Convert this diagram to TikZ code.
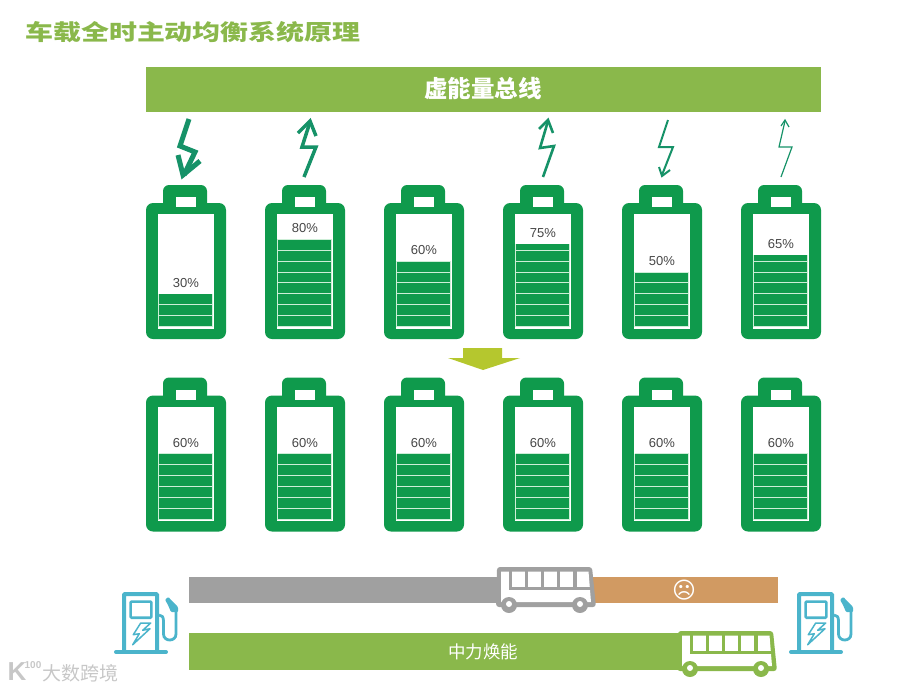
\documentclass[tikz,border=0pt]{standalone}
\usepackage{fontspec}
\setmainfont{Liberation Sans}
\newfontfamily\cjk{Noto Sans CJK SC}
\newfontfamily\symb{DejaVu Sans}
\usepackage{xcolor}
\definecolor{barGreen}{RGB}{138,184,75}
\definecolor{batGreen}{RGB}{15,154,76}
\definecolor{cellLine}{RGB}{205,238,215}
\definecolor{boltGreen}{RGB}{22,146,104}
\definecolor{pumpBlue}{RGB}{75,180,203}
\definecolor{busGray}{RGB}{160,160,160}
\definecolor{warmOrange}{RGB}{209,154,98}
\definecolor{arrowLime}{RGB}{181,199,46}
\newcommand{\battery}[5]{
  \begin{scope}[shift={(#1,#2)}]
    \fill[batGreen, rounded corners=6pt] (17,0) rectangle (61,30);
    \fill[batGreen, rounded corners=7pt] (0,18) rectangle (80,154);
    \fill[white] (30,12) rectangle (50,22);
    \fill[white] (12,29) rectangle (68,143.5);
    \fill[batGreen] (12.7,#3) rectangle (66.5,141.5);
    \begin{scope}
      \clip (12,#3) rectangle (68,143);
      \foreach \k in {0,...,8} {
        \draw[cellLine, line width=0.9pt] (12.7,141.5-\k*10.9) -- (66.5,141.5-\k*10.9);
      }
    \end{scope}
    \draw[cellLine, line width=0.9pt] (12.7,#3) -- (12.7,141.5) -- (66.5,141.5) -- (66.5,#3);
    \node[pct] (#5) at (40,#3-10.5) {#4};
  \end{scope}
}
\newcommand{\bus}[3]{
  \begin{scope}[shift={(#1,#2)}]
    \fill[#3, rounded corners=3pt] (1,0) -- (96,0) -- (100,40) -- (0,40) -- cycle;
    \fill[white] (5,4.5) -- (92.5,4.5) -- (95,35) -- (5,35) -- cycle;
    \fill[#3] (12.5,19.5) rectangle (94.5,23);
    \foreach \xa/\xb in {12.5/16, 28.5/32, 44.5/48, 60.5/64, 76.5/80.5} {
      \fill[#3] (\xa,4) rectangle (\xb,21);
    }
    \foreach \xa in {13,84} {
      \fill[#3] (\xa,38) circle (8);
      \fill[white] (\xa,37) circle (3);
    }
  \end{scope}
}
\newcommand{\pump}[2]{
  \begin{scope}[shift={(#1,#2)}, pumpBlue]
    \draw[line width=4pt, rounded corners=1pt] (10,60) -- (10,2) -- (43,2) -- (43,60);
    \draw[line width=4pt, line cap=round] (2,60) -- (52,60);
    \draw[line width=2.6pt, rounded corners=1pt] (16.6,9.6) rectangle (37.4,25.7);
    \draw[line width=1.5pt, line join=round] (36.7,31) -- (26.7,31) -- (19.3,42.7) -- (25.3,41.7) -- (18.7,52.7) -- (36,36.7) -- (28.7,38.3) -- cycle;
    \draw[line width=2.8pt] (45,23) .. controls (48,23) and (49.5,25) .. (49.5,29) -- (49.5,42) .. controls (49.5,50) and (62,50) .. (62,42) -- (62,18);
    \fill[rounded corners=1pt] (51,7.7) -- (54.3,5) -- (64,15) -- (64,20) -- (57,20) -- (54,13) -- cycle;
  \end{scope}
}
\begin{document}
\begin{tikzpicture}[
    x=1pt, y=-1pt,
    pct/.style={font=\fontsize{13}{13}\selectfont, text=black!72, inner sep=0pt},
    bolt/.style={boltGreen, line join=miter},
    title/.style={font=\cjk\fontsize{22}{22}\selectfont\bfseries, text=barGreen, xscale=1.27, transform shape, anchor=west, inner sep=0pt},
    barlabel/.style={font=\cjk\fontsize{#1}{#1}\selectfont\bfseries, text=white, inner sep=0pt},
    brandmark/.style={font=\cjk\fontsize{19}{19}\selectfont, text=black!22, inner sep=0pt}
]
\useasboundingbox (0,0) rectangle (900,689);

\node[title] (heading) at (25,32) {车载全时主动均衡系统原理};

\fill[barGreen] (146,67) rectangle (821,112);
\node[barlabel=23.5] (busbar) at (483,89) {虚能量总线};

\draw[bolt, line width=5pt] (189,119) -- (180,146) -- (195,152) -- (184,175);
\draw[bolt, line width=5pt] (178,155) -- (183,175) -- (200,161);
\draw[bolt, line width=3.5pt] (304,177) -- (316,147) -- (302,147) -- (310,122);
\draw[bolt, line width=3.5pt] (298,133) -- (310,121) -- (316,136);
\draw[bolt, line width=2.6pt] (543,177) -- (554,146) -- (540,148) -- (548,121);
\draw[bolt, line width=2.6pt] (539,129) -- (548,120) -- (553,133);
\draw[bolt, line width=2pt] (668,120) -- (659,147) -- (673,147) -- (662,175);
\draw[bolt, line width=2pt] (659,167) -- (662,176) -- (670,170);
\draw[bolt, line width=1.2pt] (781,177) -- (792,147) -- (779,147) -- (785,121);
\draw[bolt, line width=1.2pt] (781,126) -- (785,120) -- (789,127);

\battery{146}{185}{109}{30\%}{topa}
\battery{265}{185}{54}{80\%}{topb}
\battery{384}{185}{76}{60\%}{topc}
\battery{503}{185}{59}{75\%}{topd}
\battery{622}{185}{87}{50\%}{tope}
\battery{741}{185}{70}{65\%}{topf}

\fill[arrowLime] (463,348) -- (502,348) -- (502,358) -- (520,358) -- (483,370) -- (448,358) -- (463,358) -- cycle;

\foreach \xa/\na in {146/a,265/b,384/c,503/d,622/e,741/f} {
  \battery{\xa}{377.5}{76}{60\%}{low\na}
}

\fill[busGray] (189,577) rectangle (505,603);
\fill[warmOrange] (590,577) rectangle (778,603);
\bus{496}{567}{busGray}
\node[font=\symb\fontsize{23}{23}\selectfont, text=white, inner sep=0pt] (sad) at (684,590) {☹};

\fill[barGreen] (189,633) rectangle (685,670);
\node[font=\cjk\fontsize{17.5}{17.5}\selectfont, text=white, inner sep=0pt] (swap) at (483,652) {中力焕能};
\bus{677}{631}{barGreen}

\pump{114}{592}
\pump{789}{592}

\node[font=\fontsize{26}{26}\selectfont\bfseries, text=black!22, inner sep=0pt] (logoK) at (17,672) {K};
\node[font=\fontsize{10}{10}\selectfont\bfseries, text=black!22, inner sep=0pt] (logoN) at (33,665) {100};
\node[brandmark] (brand) at (80,673) {大数跨境};
\end{tikzpicture}
\end{document}
